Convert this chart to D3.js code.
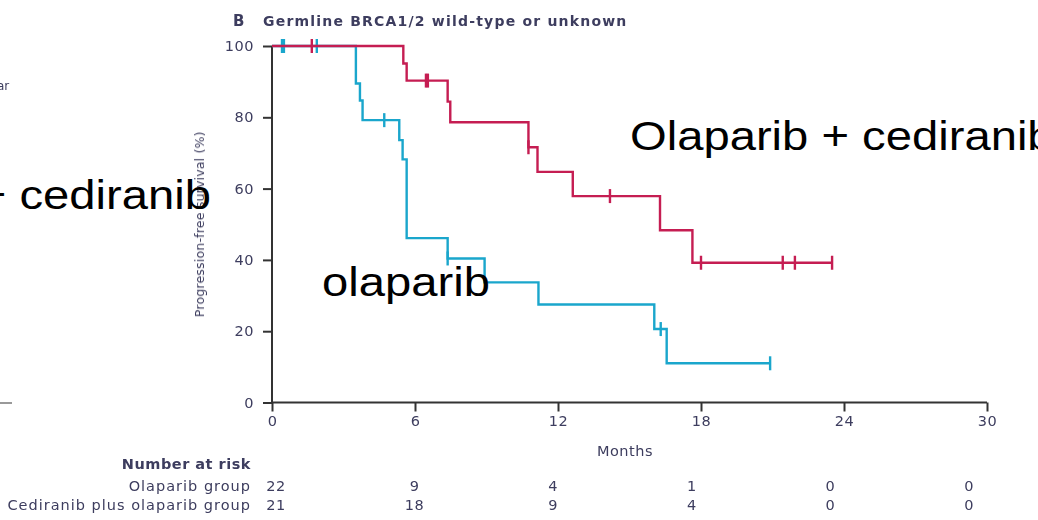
<!DOCTYPE html>
<html>
<head>
<meta charset="utf-8">
<script src="https://cdn.jsdelivr.net/npm/d3@7/dist/d3.min.js"></script>
<style>
  html, body { margin: 0; padding: 0; background: #fff; overflow: hidden; }
  svg { display: block; }
  .small { font-family: "DejaVu Sans", "Liberation Sans", sans-serif; fill: #3d3d5e; filter: url(#soft); }
  .big { font-family: "Liberation Sans", Arial, sans-serif; fill: #000; }
</style>
</head>
<body>
<svg id="chart" width="1038" height="520"></svg>
<script>
// Kaplan-Meier estimates, progression-free survival (%) by month
const olaparibEventMonths = [3.52, 3.69, 3.80, 5.34, 5.48, 5.65, 7.37, 8.92, 11.18, 16.04, 16.56];
const olaparibSurvival    = [89.5, 84.7, 79.2, 73.6, 68.2, 46.1, 40.4, 33.7, 27.5, 20.6, 11.0];
const olaparibCensored    = [0.42, 0.50, 1.88, 4.71, 7.37, 16.31, 20.9];
const olaparibLastMonth   = 20.9;

const comboEventMonths = [5.51, 5.65, 7.37, 7.48, 10.76, 11.14, 12.62, 16.28, 17.64];
const comboSurvival    = [95.1, 90.3, 84.4, 78.6, 71.6, 64.7, 57.9, 48.3, 39.2];
const comboCensored    = [1.67, 6.46, 6.54, 10.76, 14.18, 18.0, 21.43, 21.94, 23.5];
const comboLastMonth   = 23.5;

const monthTicks = [0, 6, 12, 18, 24, 30];
const survivalTicks = [0, 20, 40, 60, 80, 100];

const riskGroups = ["Olaparib group", "Cediranib plus olaparib group"];
const olaparibAtRisk = [22, 9, 4, 1, 0, 0];
const comboAtRisk    = [21, 18, 9, 4, 0, 0];

const svg = d3.select("#chart");

const defs = svg.append("defs");
defs.append("filter").attr("id", "soft").attr("x", "-5%").attr("y", "-20%").attr("width", "110%").attr("height", "140%")
  .append("feGaussianBlur").attr("stdDeviation", 0.45);

const x = d3.scaleLinear().domain([0, 30]).range([272, 987]);
const y = d3.scaleLinear().domain([0, 100]).range([402.5, 46]);
const riskX = d3.scaleLinear().domain([0, 30]).range([276, 969]);

const red = "#c51d52";
const cyan = "#1aa6cc";
const axisColor = "#333";
const labelColor = "#5a5a80";

// fragments of the neighbouring panel on the left
svg.append("text").attr("class", "small").attr("x", -3).attr("y", 90)
  .attr("font-size", 12).attr("fill", "#777").text("ar");
svg.append("line").attr("x1", 0).attr("x2", 12).attr("y1", 403).attr("y2", 403)
  .attr("stroke", "#999").attr("stroke-width", 2);

// panel title
svg.append("text").attr("class", "small").attr("x", 233).attr("y", 26)
  .attr("font-size", 15).attr("font-weight", "bold").text("B");
svg.append("text").attr("class", "small").attr("x", 263).attr("y", 26)
  .attr("font-size", 14).attr("font-weight", "bold").attr("letter-spacing", 1.2)
  .text("Germline BRCA1/2 wild-type or unknown");

// axes
const yAxis = d3.axisLeft(y).tickValues(survivalTicks).tickSize(9).tickPadding(9);
const xAxis = d3.axisBottom(x).tickValues(monthTicks).tickSize(9).tickPadding(4);

const gy = svg.append("g").attr("transform", `translate(${x(0)},0)`).call(yAxis);
const gx = svg.append("g").attr("transform", `translate(0,${y(0)})`).call(xAxis);
[gx, gy].forEach(g => {
  g.select(".domain").attr("stroke", axisColor).attr("stroke-width", 2);
  g.selectAll(".tick line").attr("stroke", axisColor).attr("stroke-width", 2);
  g.selectAll(".tick text").attr("class", "small").attr("font-size", 14.5)
    .attr("letter-spacing", 0.5).attr("fill", labelColor);
});
gy.select(".domain").attr("d", `M0,${y(100)}V${y(0)}`);
gx.select(".domain").attr("d", `M${x(0)},0H${x(30)}`);

svg.append("text").attr("class", "small")
  .attr("transform", `translate(204,${(y(100) + y(0)) / 2}) rotate(-90)`)
  .attr("text-anchor", "middle").attr("font-size", 12.5).attr("letter-spacing", 0.2).attr("fill", labelColor)
  .text("Progression-free survival (%)");

svg.append("text").attr("class", "small").attr("x", 625).attr("y", 456)
  .attr("text-anchor", "middle").attr("font-size", 14.5).attr("letter-spacing", 0.5).text("Months");

// survival step curves
function stepPoints(times, surv, last) {
  const pts = [[0, 100]];
  let s = 100;
  times.forEach((t, i) => { pts.push([t, s]); s = surv[i]; pts.push([t, s]); });
  pts.push([last, s]);
  return pts;
}
function survivalAt(times, surv, t) {
  let s = 100;
  times.forEach((e, i) => { if (e <= t) s = surv[i]; });
  return s;
}
const line = d3.line().x(d => x(d[0])).y(d => y(d[1]));

const series = [
  { times: olaparibEventMonths, surv: olaparibSurvival, cens: olaparibCensored, last: olaparibLastMonth, color: cyan },
  { times: comboEventMonths, surv: comboSurvival, cens: comboCensored, last: comboLastMonth, color: red }
];

series.forEach(sr => {
  svg.append("path").datum(stepPoints(sr.times, sr.surv, sr.last))
    .attr("d", line).attr("fill", "none").attr("stroke", sr.color)
    .attr("stroke-width", 2.4).attr("stroke-linejoin", "miter");
  svg.selectAll(null).data(sr.cens).enter().append("line")
    .attr("x1", d => x(d)).attr("x2", d => x(d))
    .attr("y1", d => y(survivalAt(sr.times, sr.surv, d)) - 7)
    .attr("y2", d => y(survivalAt(sr.times, sr.surv, d)) + 7)
    .attr("stroke", sr.color).attr("stroke-width", 2.4);
});

// number at risk table
svg.append("text").attr("class", "small").attr("x", 251).attr("y", 469)
  .attr("text-anchor", "end").attr("font-size", 14.5).attr("font-weight", "bold")
  .attr("letter-spacing", 0.5).text("Number at risk");
[olaparibAtRisk, comboAtRisk].forEach((row, r) => {
  const yy = 491 + r * 19;
  svg.append("text").attr("class", "small").attr("x", 251).attr("y", yy)
    .attr("text-anchor", "end").attr("font-size", 14.5).attr("letter-spacing", 1).text(riskGroups[r]);
  svg.selectAll(null).data(row).enter().append("text").attr("class", "small")
    .attr("x", (d, i) => riskX(monthTicks[i])).attr("y", yy)
    .attr("text-anchor", "middle").attr("font-size", 14.5).attr("letter-spacing", 0.5).text(d => d);
});

// curve annotations (set in a horizontally widened face)
function annotate(text, px, py, anchor) {
  svg.append("text").attr("class", "big")
    .attr("transform", `translate(${px},${py}) scale(1.18,1)`)
    .attr("text-anchor", anchor).attr("font-size", 40).text(text);
}
annotate("Olaparib + cediranib", 630, 150, "start");
annotate("olaparib", 322, 296, "start");
annotate("Olaparib + cediranib", 211, 209, "end");
</script>
</body>
</html>
